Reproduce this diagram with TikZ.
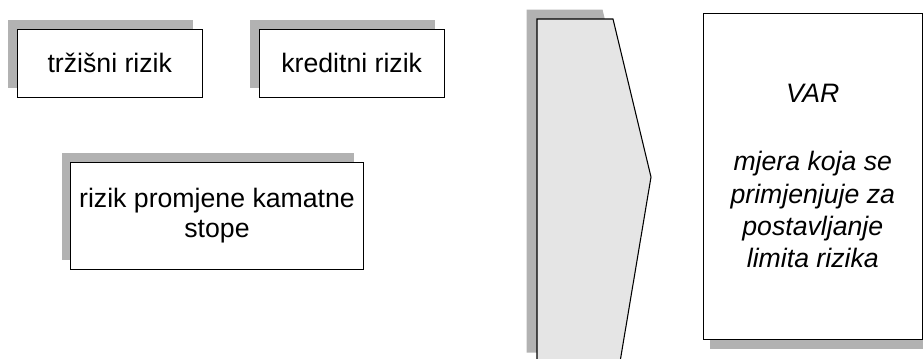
\documentclass[tikz,border=0pt]{standalone}
\usepackage{fontspec}
\setmainfont{Liberation Sans}
\usetikzlibrary{shadows}
\definecolor{shadowc}{HTML}{B2B2B2}
\definecolor{arrowc}{HTML}{E5E5E5}
\begin{document}
\begin{tikzpicture}[x=0.75pt,y=-0.75pt,
  riskbox/.style={draw=black, line width=0.8pt, fill=white, align=center, inner sep=0pt,
    font=\fontsize{20}{22.5}\selectfont,
    general shadow={shadow xshift=-6.75pt, shadow yshift=6.75pt, fill=shadowc}},
  varbox/.style={draw=black, line width=0.8pt, fill=white, align=center, inner sep=0pt,
    font=\fontsize{20}{24.3}\selectfont\itshape,
    general shadow={shadow xshift=5.25pt, shadow yshift=-7.5pt, fill=shadowc}},
  bigarrow/.style={draw=black, line width=0.8pt, fill=arrowc,
    general shadow={shadow xshift=-7.875pt, shadow yshift=7.125pt, fill=shadowc}}]
\useasboundingbox (0,0) rectangle (923,358);
\clip (0,0) rectangle (923,358);
\node[riskbox, minimum width=138.75pt, minimum height=51pt] (trz) at (109.8,63.3) {tržišni rizik};
\node[riskbox, minimum width=138.5pt, minimum height=51pt] (kred) at (351.7,63.3) {kreditni rizik};
\node[riskbox, minimum width=219.5pt, minimum height=80.5pt] (kam) at (217,215.7) {rizik promjene kamatne\\stope};
\path[bigarrow] (537,19) -- (613,19) -- (651,177) -- (620,362) -- (537,362) -- cycle;
\node[varbox, minimum width=164.25pt, minimum height=244.3pt] (var) at (812.8,176.2)
  {VAR\\[26.7pt]mjera koja se\\primjenjuje za\\postavljanje\\limita rizika};
\end{tikzpicture}
\end{document}
